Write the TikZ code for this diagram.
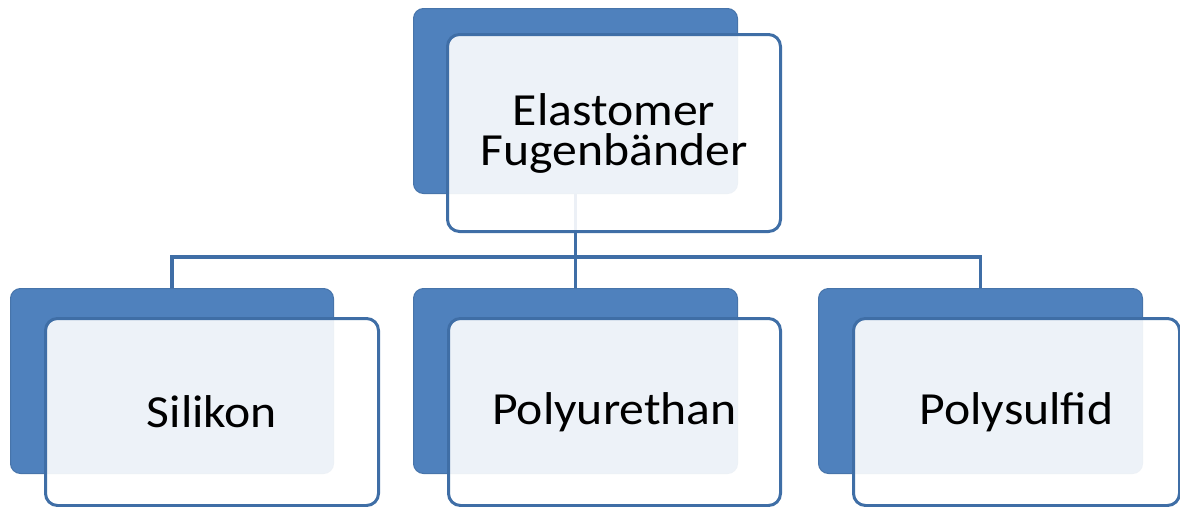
\documentclass[tikz,border=0pt]{standalone}
\usepackage{fontspec}
\setmainfont[FakeStretch=1.08]{Carlito}
\definecolor{backblue}{HTML}{4F81BD}
\definecolor{edgeblue}{HTML}{3F6EA6}
\begin{document}
\begin{tikzpicture}[x=1pt,y=-1pt,
  backbox/.style={rectangle,fill=backblue,draw=backblue!90!black,line width=1pt,rounded corners=10pt,inner sep=0pt,anchor=north west},
  frontbox/.style={rectangle,fill=white,fill opacity=0.9,text opacity=1,draw=edgeblue,line width=3pt,rounded corners=12pt,inner sep=0pt,anchor=north west,
    font=\fontsize{46}{40}\selectfont,align=center,text=black},
  link/.style={draw=edgeblue,line width=3.5pt}]
\useasboundingbox (0,0) rectangle (1180,506);
% back boxes
\node[backbox,minimum width=324pt,minimum height=185pt] (tb) at (413,8) {};
\node[backbox,minimum width=323pt,minimum height=185pt] (lb) at (10,288) {};
\node[backbox,minimum width=324pt,minimum height=185pt] (mb) at (413,288) {};
\node[backbox,minimum width=324pt,minimum height=185pt] (rb) at (818,288) {};
% connectors
\coordinate (bus) at (0,257);
\draw[link] (tb.south) -- (tb.south |- bus);
\draw[link] (lb.north) |- (rb.north |- bus) -- (rb.north);
\draw[link] (mb.north) -- (mb.north |- bus);
% front boxes
\node[frontbox,minimum width=333pt,minimum height=197pt] (tf) at (446,33) {Elastomer\\Fugenbänder};
\node[frontbox,minimum width=333pt,minimum height=187pt] (lf) at (44,317) {Silikon};
\node[frontbox,minimum width=332pt,minimum height=187pt] (mf) at (447,317) {Polyurethan};
\node[frontbox,minimum width=326pt,minimum height=187pt] (rf) at (852,317) {Polysulfid};
\end{tikzpicture}
\end{document}
